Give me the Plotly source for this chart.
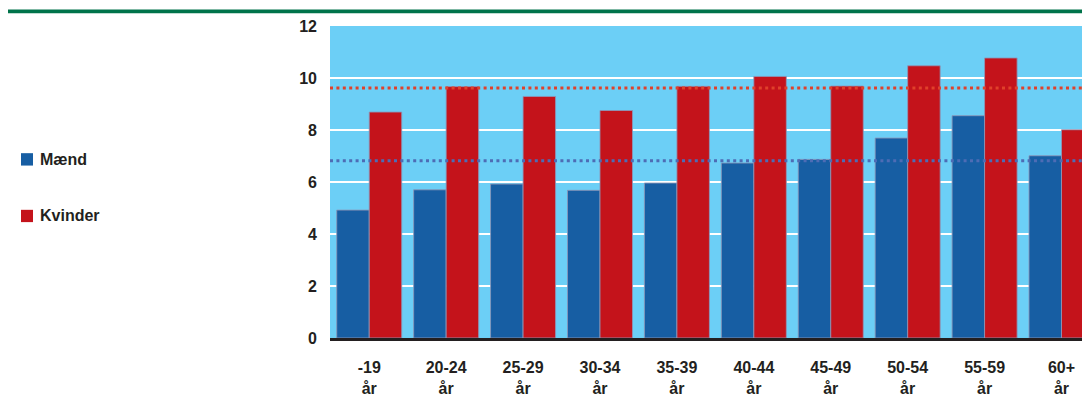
import plotly.graph_objects as go

# ---- data ----
categories = ["-19<br>år", "20-24<br>år", "25-29<br>år", "30-34<br>år", "35-39<br>år",
              "40-44<br>år", "45-49<br>år", "50-54<br>år", "55-59<br>år", "60+<br>år"]
maend = [4.92, 5.70, 5.92, 5.68, 5.96, 6.73, 6.87, 7.69, 8.55, 7.01]
kvinder = [8.69, 9.67, 9.29, 8.75, 9.68, 10.06, 9.69, 10.47, 10.77, 8.01]
avg_maend = 6.82
avg_kvinder = 9.62
y_ticks = [0, 2, 4, 6, 8, 10, 12]
series_names = ["Mænd", "Kvinder"]

# ---- style ----
BLUE = "#175ea3"
RED = "#c4131b"
BG = "#6ccff6"
DOT_RED = "#e0412a"
DOT_BLUE = "#4d6cb5"
GREEN = "#00734a"
TXT = "#231f20"
FONT = "Liberation Sans, Arial, sans-serif"
EDGE = "rgba(140,150,185,0.85)"

# page body has an 8px margin; screen coords = figure coords + 8
OFF = 8
W, H = 1090 - OFF, 405 - 2 * OFF
ML = 330 - OFF
MR = 0
MT = round(26.3 - OFF)
MB = H - (338.3 - OFF)
plot_w = W - ML - MR
plot_h = H - MT - MB
step_px = 76.92


def px_x(px):
    return (px - OFF - ML) / plot_w


def px_y(py):
    return (H - MB - (py - OFF)) / plot_h


x = list(range(len(categories)))

fig = go.Figure()
fig.add_trace(go.Bar(x=x, y=maend, name=series_names[0], marker_color=BLUE,
                     marker_line_color=EDGE, marker_line_width=1, showlegend=False))
fig.add_trace(go.Bar(x=x, y=kvinder, name=series_names[1], marker_color=RED,
                     marker_line_color=EDGE, marker_line_width=1, showlegend=False))

x0 = -0.51
x1 = x0 + plot_w / step_px

shapes = [
    dict(type="line", xref="paper", yref="y", x0=0, x1=1, y0=avg_kvinder, y1=avg_kvinder,
         line=dict(color=DOT_RED, width=3, dash="3px,3.4px"), layer="above"),
    dict(type="line", xref="paper", yref="y", x0=0, x1=1, y0=avg_maend, y1=avg_maend,
         line=dict(color=DOT_BLUE, width=3, dash="3px,3.4px"), layer="above"),
    # top green rule
    dict(type="line", xref="paper", yref="paper", x0=px_x(8), x1=1, y0=px_y(11.3), y1=px_y(11.3),
         line=dict(color=GREEN, width=3.8)),
    # legend swatches
    dict(type="rect", xref="paper", yref="paper", x0=px_x(21), x1=px_x(33),
         y0=px_y(165.7), y1=px_y(153.3), fillcolor=BLUE, line=dict(width=0)),
    dict(type="rect", xref="paper", yref="paper", x0=px_x(21), x1=px_x(33),
         y0=px_y(222.3), y1=px_y(210), fillcolor=RED, line=dict(width=0)),
]

annotations = [
    dict(text=series_names[0], xref="paper", yref="paper", x=px_x(37.5), y=px_y(159.5),
         xanchor="left", yanchor="middle", showarrow=False,
         font=dict(family=FONT, size=16, color=TXT, weight="bold")),
    dict(text=series_names[1], xref="paper", yref="paper", x=px_x(37.5), y=px_y(216),
         xanchor="left", yanchor="middle", showarrow=False,
         font=dict(family=FONT, size=16, color=TXT, weight="bold")),
]

fig.update_layout(
    width=W, height=H,
    margin=dict(l=ML, r=MR, t=MT, b=MB, pad=0),
    paper_bgcolor="white",
    plot_bgcolor=BG,
    barmode="group",
    bargap=0.155,
    bargroupgap=0,
    shapes=shapes,
    annotations=annotations,
    font=dict(family=FONT, size=16, color=TXT),
    xaxis=dict(
        tickmode="array", tickvals=x, ticktext=categories,
        range=[x0, x1], showgrid=False, zeroline=False,
        showline=True, linecolor=TXT, linewidth=2.5,
        ticks="", ticklabelstandoff=13,
        tickfont=dict(family=FONT, size=16, color=TXT, weight="bold"),
    ),
    yaxis=dict(
        range=[0, 12], tickmode="array", tickvals=y_ticks,
        showgrid=True, gridcolor="white", gridwidth=2,
        zeroline=False, showline=False, ticks="", ticklabelstandoff=12,
        tickfont=dict(family=FONT, size=16, color=TXT, weight="bold"),
    ),
)

fig.write_html("out.html")
